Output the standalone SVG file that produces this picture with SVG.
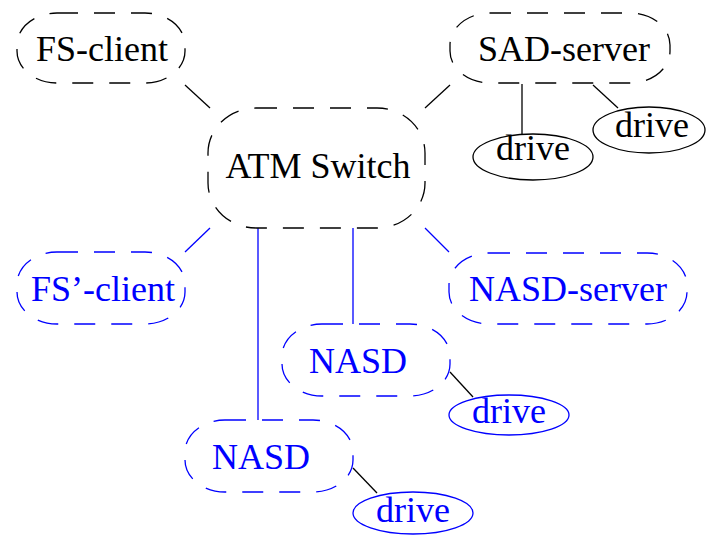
<svg xmlns="http://www.w3.org/2000/svg" width="706" height="535" viewBox="0 0 706 535" font-family="Liberation Serif, Times New Roman, serif">
<style>
.box{fill:none;stroke-width:1.3;stroke-dasharray:21 16}
.k{stroke:#000}
.b{stroke:#0000ff}
.el{fill:none;stroke-width:1.3}
.ln{stroke-width:1.3;fill:none}
text{font-family:'Liberation Serif',serif;font-size:36px;text-anchor:middle}
.tk{fill:#000}
.tb{fill:#0000ff}
</style>
<rect width="706" height="535" fill="#fff"/>
<g id="connectors">
<line class="ln k" x1="185" y1="85" x2="210" y2="108"/>
<line class="ln k" x1="450" y1="85" x2="425" y2="108"/>
<line class="ln k" x1="522" y1="84" x2="522" y2="135"/>
<line class="ln k" x1="593" y1="85" x2="618" y2="108"/>
<line class="ln b" x1="210" y1="228" x2="185" y2="252"/>
<line class="ln b" x1="425" y1="228" x2="449" y2="252"/>
<line class="ln b" x1="258" y1="228" x2="258" y2="420"/>
<line class="ln b" x1="353" y1="228" x2="353" y2="324"/>
<line class="ln k" x1="450" y1="372" x2="473" y2="397"/>
<line class="ln k" x1="353" y1="468" x2="377" y2="493"/>
</g>
<g id="fs-client">
<rect class="box k" x="17" y="13" width="168" height="70" rx="40" ry="32"/>
<text class="tk" x="102" y="61">FS-client</text>
</g>
<g id="sad-server">
<rect class="box k" x="450" y="13" width="220" height="70" rx="40" ry="32"/>
<text class="tk" x="564" y="61">SAD-server</text>
</g>
<g id="drive-sad-1">
<ellipse class="el k" cx="533" cy="157" rx="60" ry="23"/>
<text class="tk" x="533" y="160">drive</text>
</g>
<g id="drive-sad-2">
<ellipse class="el k" cx="649" cy="130" rx="56" ry="23"/>
<text class="tk" x="652" y="137">drive</text>
</g>
<g id="atm-switch">
<rect class="box k" x="208" y="108" width="217" height="120" rx="48" ry="45"/>
<text class="tk" x="318" y="178">ATM Switch</text>
</g>
<g id="fs-prime-client">
<rect class="box b" x="17" y="252" width="168" height="72" rx="40" ry="32"/>
<text class="tb" x="103" y="301">FS’-client</text>
</g>
<g id="nasd-server">
<rect class="box b" x="449" y="253" width="238" height="71" rx="40" ry="32"/>
<text class="tb" x="568" y="301">NASD-server</text>
</g>
<g id="nasd-1">
<rect class="box b" x="282" y="324" width="168" height="72" rx="40" ry="32"/>
<text class="tb" x="358" y="373">NASD</text>
</g>
<g id="drive-nasd-1">
<ellipse class="el b" cx="509" cy="415" rx="60" ry="20"/>
<text class="tb" x="509" y="423">drive</text>
</g>
<g id="nasd-2">
<rect class="box b" x="185" y="420" width="168" height="72" rx="40" ry="32"/>
<text class="tb" x="261" y="469">NASD</text>
</g>
<g id="drive-nasd-2">
<ellipse class="el b" cx="413" cy="513" rx="60" ry="21"/>
<text class="tb" x="413" y="522">drive</text>
</g>
</svg>
